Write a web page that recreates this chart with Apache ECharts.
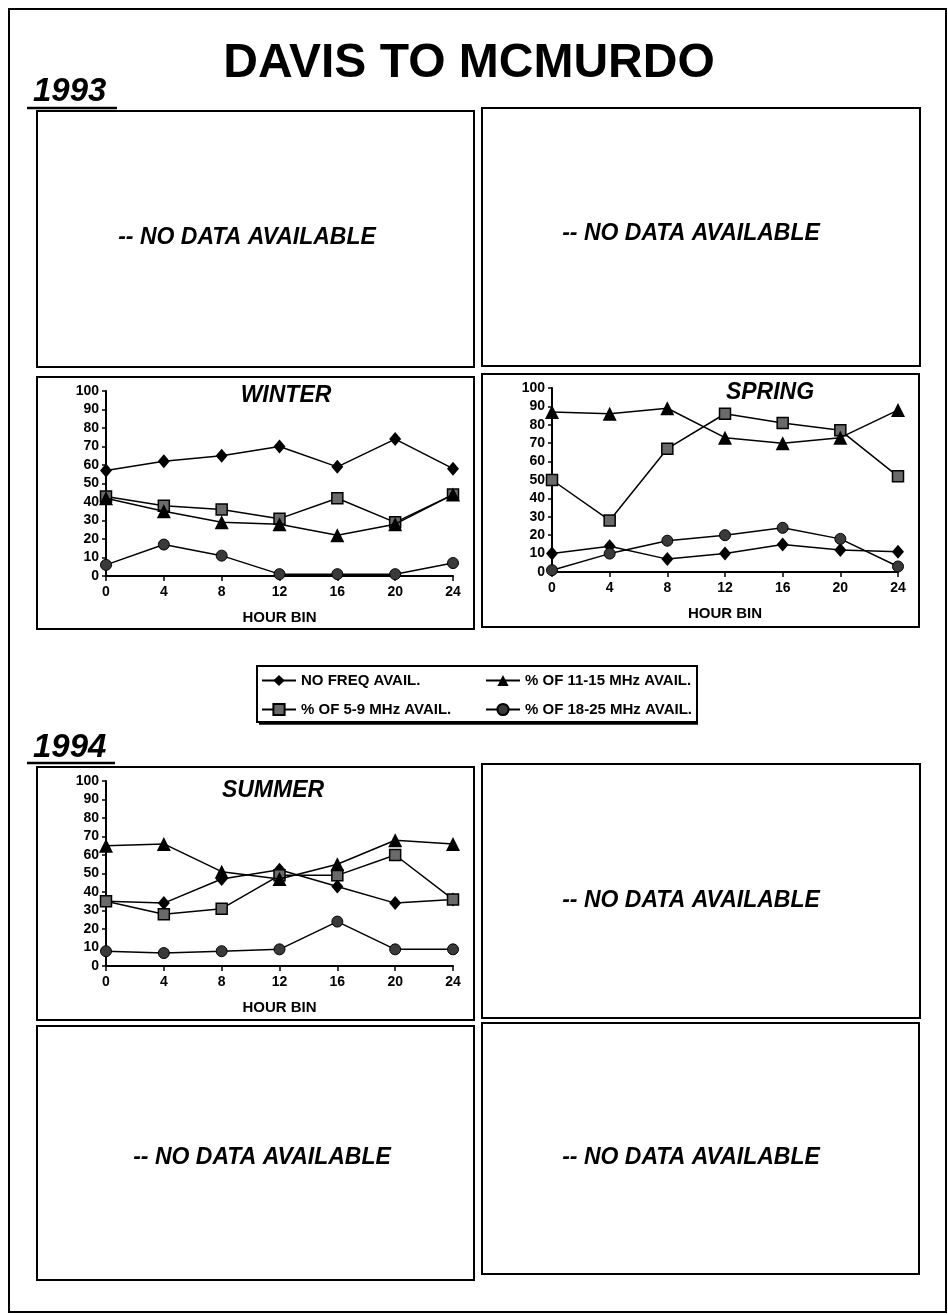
<!DOCTYPE html>
<html>
<head>
<meta charset="utf-8">
<script src="https://cdn.jsdelivr.net/npm/echarts@6/dist/echarts.min.js"></script>
<style>
html,body{margin:0;padding:0;background:#fff;}
#c{width:948px;height:1315px;}
</style>
</head>
<body>
<div id="c"></div>
<script>
// ---- data ----
const hours = [0, 4, 8, 12, 16, 20, 24];
const seriesNames = ['NO FREQ AVAIL.', '% OF 5-9 MHz AVAIL.', '% OF 11-15 MHz AVAIL.', '% OF 18-25 MHz AVAIL.'];
const yTicks = [0, 10, 20, 30, 40, 50, 60, 70, 80, 90, 100];

const winterNoFreq = [57, 62, 65, 70, 59, 74, 58];
const winter5to9   = [43, 38, 36, 31, 42, 29, 44];
const winter11to15 = [42, 35, 29, 28, 22, 28, 44];
const winter18to25 = [6, 17, 11, 1, 1, 1, 7];

const springNoFreq = [10, 14, 7, 10, 15, 12, 11];
const spring5to9   = [50, 28, 67, 86, 81, 77, 52];
const spring11to15 = [87, 86, 89, 73, 70, 73, 88];
const spring18to25 = [1, 10, 17, 20, 24, 18, 3];

const summerNoFreq = [35, 34, 47, 52, 43, 34, 36];
const summer5to9   = [35, 28, 31, 49, 49, 60, 36];
const summer11to15 = [65, 66, 51, 47, 55, 68, 66];
const summer18to25 = [8, 7, 8, 9, 24, 9, 9];

const seasonTitles = ['WINTER', 'SPRING', 'SUMMER'];
const noDataText = '-- NO DATA AVAILABLE';
const pageTitle = 'DAVIS TO MCMURDO';
const yearLabels = ['1993', '1994'];
const xAxisName = 'HOUR BIN';

// ---- build ----
const FONT = '"Liberation Sans", Arial, sans-serif';
const panels = [
  {noFreq: winterNoFreq, s59: winter5to9, s1115: winter11to15, s1825: winter18to25, grid: {left: 106, top: 391, width: 347, height: 185}},
  {noFreq: springNoFreq, s59: spring5to9, s1115: spring11to15, s1825: spring18to25, grid: {left: 552, top: 388, width: 346, height: 184}},
  {noFreq: summerNoFreq, s59: summer5to9, s1115: summer11to15, s1825: summer18to25, grid: {left: 106, top: 781, width: 347, height: 185}}
];

const symbolStyles = [
  {symbol: 'diamond', size: [12, 14], item: {color: '#000', borderColor: '#000', borderWidth: 0}},
  {symbol: 'rect', size: 11, item: {color: '#6a6a6a', borderColor: '#000', borderWidth: 1.5}},
  {symbol: 'triangle', size: 14, item: {color: '#000', borderColor: '#000', borderWidth: 0}},
  {symbol: 'circle', size: 11, item: {color: '#3a3a3a', borderColor: '#000', borderWidth: 1}}
];

const grids = [], xAxes = [], yAxes = [], series = [];
panels.forEach((p, i) => {
  grids.push(Object.assign({containLabel: false}, p.grid));
  xAxes.push({
    type: 'value', gridIndex: i, min: 0, max: 24, interval: 4,
    name: xAxisName, nameLocation: 'middle', nameGap: 34,
    nameTextStyle: {fontFamily: FONT, fontWeight: 'bold', fontSize: 15, color: '#000'},
    axisLine: {show: true, onZero: false, lineStyle: {color: '#000', width: 2}},
    axisTick: {show: true, length: 5, lineStyle: {color: '#000', width: 1.5}},
    axisLabel: {fontFamily: FONT, fontWeight: 'bold', fontSize: 14, color: '#000', margin: 9},
    splitLine: {show: false}
  });
  yAxes.push({
    type: 'value', gridIndex: i, min: 0, max: 100, interval: 10,
    axisLine: {show: true, onZero: false, lineStyle: {color: '#000', width: 2}},
    axisTick: {show: true, length: 4, lineStyle: {color: '#000', width: 1.5}},
    axisLabel: {fontFamily: FONT, fontWeight: 'bold', fontSize: 14, color: '#000', margin: 7},
    splitLine: {show: false}
  });
  const vals = [p.noFreq, p.s59, p.s1115, p.s1825];
  vals.forEach((v, k) => {
    const st = symbolStyles[k];
    series.push({
      type: 'line', name: seriesNames[k], xAxisIndex: i, yAxisIndex: i,
      data: hours.map((h, j) => [h, v[j]]),
      symbol: st.symbol, symbolSize: st.size, showAllSymbol: true,
      lineStyle: {color: '#000', width: 1.5},
      itemStyle: st.item,
      emphasis: {disabled: true},
      animation: false, z: 3 + k
    });
  });
});

function box(x, y, w, h, lw) {
  return {type: 'rect', shape: {x: x, y: y, width: w, height: h},
          style: {fill: 'none', stroke: '#000', lineWidth: lw || 2}, z: 1};
}
function txt(t, x, y, font, align) {
  return {type: 'text', x: x, y: y, style: {text: t, font: font, fill: '#000',
          textAlign: align || 'center', textVerticalAlign: 'middle'}, z: 5};
}
const ndFont = 'italic bold 23px ' + FONT;
const graphics = [
  box(9, 9, 937, 1303, 2),
  txt(pageTitle, 469, 64, 'bold 48px ' + FONT),
  txt(yearLabels[0], 33, 92, 'italic bold 33px ' + FONT, 'left'),
  {type: 'line', shape: {x1: 27, y1: 108, x2: 117, y2: 108}, style: {stroke: '#000', lineWidth: 2.5}},
  txt(yearLabels[1], 33, 748, 'italic bold 33px ' + FONT, 'left'),
  {type: 'line', shape: {x1: 27, y1: 763, x2: 115, y2: 763}, style: {stroke: '#000', lineWidth: 2.5}},
  // panels
  box(37, 111, 437, 256), box(482, 108, 438, 258),
  box(37, 377, 437, 252), box(482, 374, 437, 253),
  box(37, 767, 437, 253), box(482, 764, 438, 254),
  box(37, 1026, 437, 254), box(482, 1023, 437, 251),
  // legend box
  box(257, 666, 440, 56),
  {type: 'line', shape: {x1: 259, y1: 723.5, x2: 698, y2: 723.5}, style: {stroke: '#000', lineWidth: 2.5}},
  // no data texts
  txt(noDataText, 247, 238, ndFont), txt(noDataText, 691, 234, ndFont),
  txt(noDataText, 691, 901, ndFont), txt(noDataText, 262, 1158, ndFont),
  txt(noDataText, 691, 1158, ndFont),
  // season titles
  txt(seasonTitles[0], 286, 396, 'italic bold 23px ' + FONT),
  txt(seasonTitles[1], 770, 393, 'italic bold 23px ' + FONT),
  txt(seasonTitles[2], 273, 791, 'italic bold 23px ' + FONT)
];

const legendBase = {
  orient: 'vertical', itemWidth: 34, itemHeight: 14, itemGap: 14, itemSymbolSize: 14, selectedMode: false,
  textStyle: {fontFamily: FONT, fontWeight: 'bold', fontSize: 15, color: '#000'}, padding: 0
};
const option = {
  backgroundColor: '#fff',
  animation: false,
  grid: grids, xAxis: xAxes, yAxis: yAxes, series: series,
  legend: [
    Object.assign({left: 261, top: 673, data: [seriesNames[0], seriesNames[1]]}, legendBase),
    Object.assign({left: 485, top: 673, data: [seriesNames[2], seriesNames[3]]}, legendBase)
  ],
  graphic: {elements: graphics}
};
const chart = echarts.init(document.getElementById('c'), null, {renderer: 'canvas'});
chart.setOption(option);
</script>
</body>
</html>
